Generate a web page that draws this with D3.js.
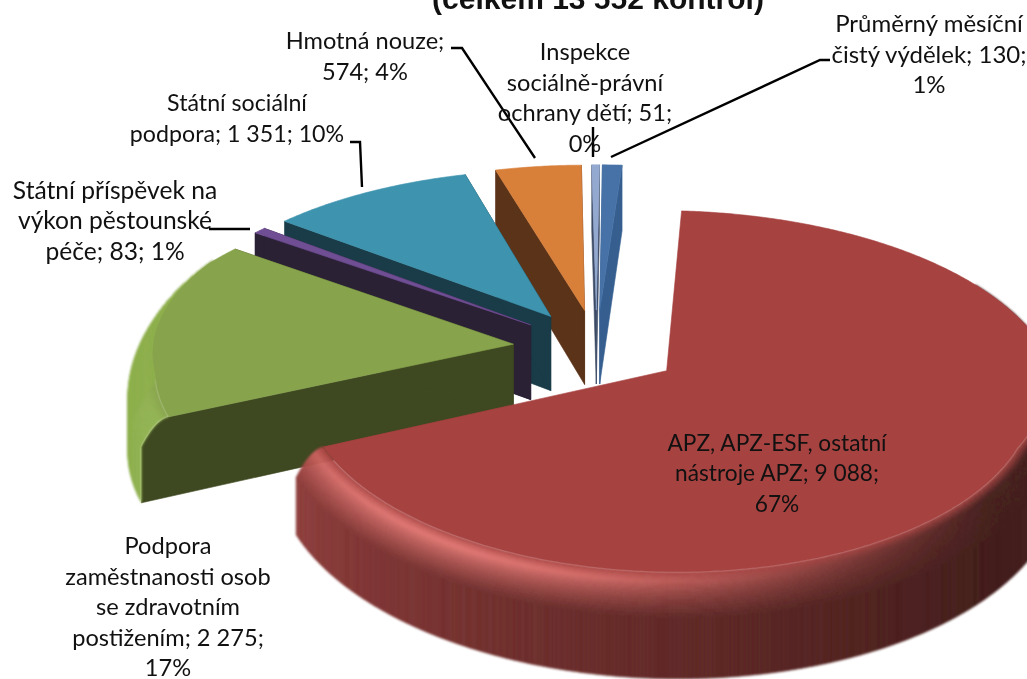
<!DOCTYPE html>
<html><head><meta charset="utf-8">
<script src="https://cdnjs.cloudflare.com/ajax/libs/d3/7.8.5/d3.min.js"></script>
<style>html,body{margin:0;padding:0;background:#fff;overflow:hidden}svg{display:block;filter:blur(.45px)}</style>
</head><body><svg id="c" width="1027" height="679"><defs><filter id="soft" filterUnits="userSpaceOnUse" x="0" y="0" width="1027" height="679"><feGaussianBlur stdDeviation=".8"/></filter></defs></svg>
<script>
// ---- data (clockwise from the start of the largest slice)
const categories = ["APZ, APZ-ESF, ostatní nástroje APZ","Podpora zaměstnanosti osob se zdravotním postižením","Státní příspěvek na výkon pěstounské péče","Státní sociální podpora","Hmotná nouze","Inspekce sociálně-právní ochrany dětí","Průměrný měsíční čistý výdělek"];
const values = [9088,2275,83,1351,574,51,130];
const labelLines = [
 ["APZ, APZ-ESF, ostatní","nástroje APZ; 9 088;","67%"],
 ["Podpora","zaměstnanosti osob","se zdravotním","postižením; 2 275;","17%"],
 ["Státní příspěvek na","výkon pěstounské","péče; 83; 1%"],
 ["Státní sociální","podpora; 1 351; 10%"],
 ["Hmotná nouze;","574; 4%"],
 ["Inspekce","sociálně-právní","ochrany dětí; 51;","0%"],
 ["Průměrný měsíční","čistý výdělek; 130;","1%"]];
const titleText = "(celkem 13 552 kontrol)";
// ---- styles
const topColors  = ["#a64240","#87a34b","#6f4e94","#3e93ae","#d87f3a","#93a9d0","#4672a8"];
const sideColors = ["#3f1a18","#3e4821","#2a2135","#1a3c48","#5a3318","#3d4c66","#365f90"];
const wallLight  = ["#8f3b39","#8fb04e","#2a2135","#1a3c48","#5a3318","#3d4c66","#365f90"];
const wallDark   = ["#3f1a18","#8fb04e","#2a2135","#1a3c48","#5a3318","#3d4c66","#365f90"];
const hiColors   = ["#e07672","#98bd54","#6f4e94","#3e93ae","#d87f3a","#93a9d0","#4672a8"];
const labelCx = [777,168,115,237,365,585,929];
const labelY0 = [443,546,190,103,41,52,24];
const labelSize = [22.7,23.6,24.6,23.2,23.6,23.6,24];
const lineGap = 30.5;
const leaders = [
 [[209,229],[250,229]],
 [[350,142],[360,142],[362,187]],
 [[451,48],[462,48],[535,158]],
 [[593,127],[593,157]],
 [[830,60],[820,60],[611,157]]];
// ---- projection of the tilted pie
const cx=596.5, cy=348, R=381, Rk=178, H=76, px=.14, py=.152, expl=.22;
const startDeg=4, rimW=.07, rimDrop=.3;
const rad=d=>d*Math.PI/180, clamp=(v,a=0,b=1)=>Math.max(a,Math.min(b,v));
const project=(X,Y,z)=>{const sx=1/(1-px*Y), sy=1/(1-py*Y);return [cx+R*X*sx, cy+Rk*Y*sy+z*H*Math.pow(sy,.85)];};
const arcs=d3.pie().sort(null).startAngle(rad(startDeg)).endAngle(rad(startDeg)+2*Math.PI)(values);
const svg=d3.select("#c");
const line=d3.line();
const rows=20;
// paint back to front: the last slices are the farthest, the first one the nearest
arcs.map((a,i)=>i).reverse().forEach(i=>{
  const a=arcs[i], mid=(a.startAngle+a.endAngle)/2;
  const pt=(ang,r,z)=>project(expl*Math.sin(mid)+r*Math.sin(ang),-expl*Math.cos(mid)-r*Math.cos(ang),z);
  const g=svg.append("g").attr("class","slice");
  const poly=(pts,f,host=g)=>host.append("path").attr("d",line(pts)+"Z").attr("fill",f).attr("stroke",f).attr("stroke-width",.6);
  const bw=ang=>{const d=ang*180/Math.PI;return rimW*clamp((300-d)/40)*clamp((d-75)/40);};
  const e=(t,w)=>1-w*(1-t), z=(t,dz)=>dz*t*t;
  // cut faces, rounded where they meet the rim (those of a slice wider than a half turn stay hidden)
  if(a.endAngle-a.startAngle<Math.PI) [a.startAngle,a.endAngle].forEach(ang=>{
    const w=bw(ang),dz=rimDrop*w/rimW,prof=d3.range(0,1.001,.1).map(t=>pt(ang,e(t,w),z(t,dz)));
    poly([pt(0,0,0),...prof,pt(ang,1,1),pt(0,0,1)],sideColors[i]);
  });
  const soft=g.append("g").attr("filter","url(#soft)");
  const n=Math.max(2,Math.ceil((a.endAngle-a.startAngle)*180/Math.PI*2));
  const stepA=(a.endAngle-a.startAngle)/n;
  const top=[pt(0,0,0)];
  for(let k=0;k<n;k++){
    const a0=a.startAngle+k*stepA,a1=a0+stepA,am=(a0+a1)/2,d=am*180/Math.PI;
    const f=clamp((250-d)/120);
    const wall=d3.interpolateRgb(wallLight[i],wallDark[i])(f);
    const dim=d3.interpolateRgb(topColors[i],wallDark[i])(clamp((200-d)/70));
    const hi=d3.interpolateRgb(dim,hiColors[i])(Math.exp(-Math.pow((d-215)/45,2)));
    const w0=bw(a0),w1=bw(a1);
    const dz0=rimDrop*w0/rimW,dz1=rimDrop*w1/rimW;
    // outer wall, only where it faces the viewer
    if(d>60&&d<300) poly([pt(a0,1,dz0),pt(a1,1,dz1),pt(a1,1,1),pt(a0,1,1)],wall,soft);
    // rounded rim, outermost row first
    if(w0+w1>0) for(let j=rows-1;j>=0;j--){
      const t0=j/rows,t1=(j+1)/rows,tm=(t0+t1)/2;
      const fill=tm<.35?d3.interpolateRgb(topColors[i],hi)(tm/.35):d3.interpolateRgb(hi,wall)((tm-.35)/.65);
      poly([pt(a0,e(t0,w0),z(t0,dz0)),pt(a1,e(t0,w1),z(t0,dz1)),pt(a1,e(t1,w1),z(t1,dz1)),pt(a0,e(t1,w0),z(t1,dz0))],fill,soft);
    }
    top.push(pt(a0,1-w0,0));
    if(k==n-1) top.push(pt(a1,1-w1,0));
  }
  poly(top,topColors[i]);
});
// leader lines
svg.append("g").selectAll("path").data(leaders).join("path").attr("d",d=>line(d)).attr("fill","none").attr("stroke","#000").attr("stroke-width",2.4);
// labels
const lab=svg.append("g").attr("font-family","Lato, Carlito, sans-serif").attr("fill","#111").attr("text-anchor","middle");
labelLines.forEach((ls,i)=>ls.forEach((s,j)=>lab.append("text").attr("x",labelCx[i]).attr("y",labelY0[i]+j*lineGap).attr("dy","0.35em").attr("font-size",labelSize[i]).text(s)));
svg.append("text").attr("x",598).attr("y",9).attr("text-anchor","middle").attr("font-family","Liberation Sans, Arial, sans-serif").attr("font-weight","bold").attr("font-size",30).attr("fill","#111").text(titleText);
</script></body></html>
